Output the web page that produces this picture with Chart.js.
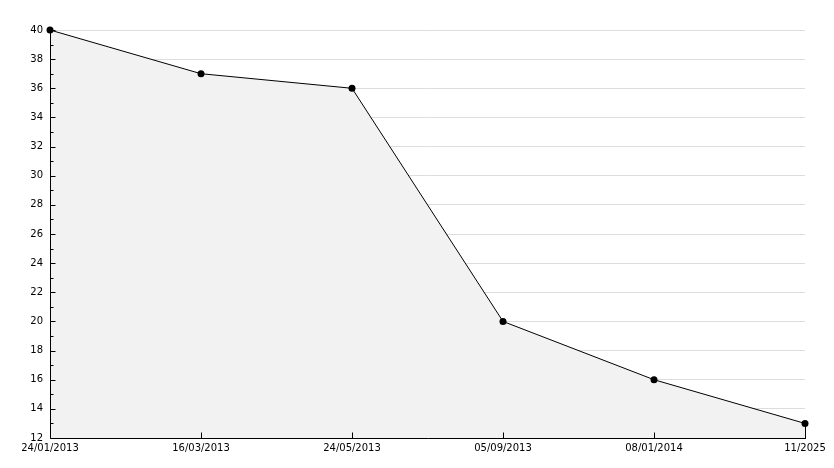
<!DOCTYPE html>
<html>
<head>
<meta charset="utf-8">
<script src="https://cdn.jsdelivr.net/npm/chart.js@4"></script>
<style>
  html, body { margin: 0; padding: 0; background: #fff; }
  #wrap { width: 834px; height: 468px; }
</style>
</head>
<body>
<div id="wrap"><canvas id="chart" width="834" height="468"></canvas></div>
<script>
const dates = ['24/01/2013', '16/03/2013', '24/05/2013', '05/09/2013', '08/01/2014', '11/2025'];
const values = [40, 37, 36, 20, 16, 13];
const yMin = 12;
const yMax = 40;

// axis lines and small tick marks drawn inward, as in the reference
const tickMarks = {
  id: 'tickMarks',
  afterDatasetsDraw(chart) {
    const ctx = chart.ctx;
    const x = chart.scales.x, y = chart.scales.y;
    const area = chart.chartArea;
    const left = Math.round(area.left) + 0.5;
    const bottom = Math.round(area.bottom) + 0.5;
    const last = chart.getDatasetMeta(0).data[values.length - 1];
    const lx = Math.round(last.x) + 0.5;
    ctx.save();
    ctx.strokeStyle = '#000';
    ctx.lineWidth = 1;
    ctx.beginPath();
    ctx.moveTo(left, area.top);
    ctx.lineTo(left, bottom);
    ctx.lineTo(area.right + 1, bottom);
    for (let v = yMin; v <= yMax; v++) {
      const py = Math.round(y.getPixelForValue(v)) + 0.5;
      ctx.moveTo(left, py);
      ctx.lineTo(left + (v % 2 === 0 ? 5 : 3), py);
    }
    for (let i = 1; i < dates.length; i++) {
      const px = Math.round(x.getPixelForValue(i)) + 0.5;
      ctx.moveTo(px, bottom);
      ctx.lineTo(px, bottom - 6);
    }
    ctx.moveTo(lx, last.y);
    ctx.lineTo(lx, bottom);
    ctx.stroke();
    ctx.restore();
  }
};

Chart.defaults.font.family = '"DejaVu Sans", Verdana, sans-serif';
Chart.defaults.font.size = 10;
Chart.defaults.color = '#000';

new Chart(document.getElementById('chart'), {
  type: 'line',
  data: {
    labels: dates,
    datasets: [{
      data: values,
      borderColor: '#000',
      borderWidth: 1,
      backgroundColor: '#f2f2f2',
      fill: 'origin',
      tension: 0,
      clip: false,
      pointRadius: 3.5,
      pointBackgroundColor: '#000',
      pointBorderColor: '#000',
      pointBorderWidth: 0
    }]
  },
  options: {
    responsive: false,
    animation: false,
    events: [],
    layout: { padding: { left: 0, right: 29, top: 30, bottom: 0 } },
    plugins: { legend: { display: false }, tooltip: { enabled: false } },
    scales: {
      x: {
        type: 'category',
        offset: false,
        grid: { display: false, drawTicks: false },
        border: { display: false },
        ticks: { padding: 4, maxRotation: 0, autoSkip: false, color: '#000' },
        afterFit(s) { s.height = 30; }
      },
      y: {
        min: yMin,
        max: yMax,
        ticks: { stepSize: 2, padding: 7, color: '#000' },
        grid: { color: '#dddddd', drawTicks: false },
        border: { display: false },
        afterFit(s) { s.width = 50; }
      }
    }
  },
  plugins: [tickMarks]
});
</script>
</body>
</html>
